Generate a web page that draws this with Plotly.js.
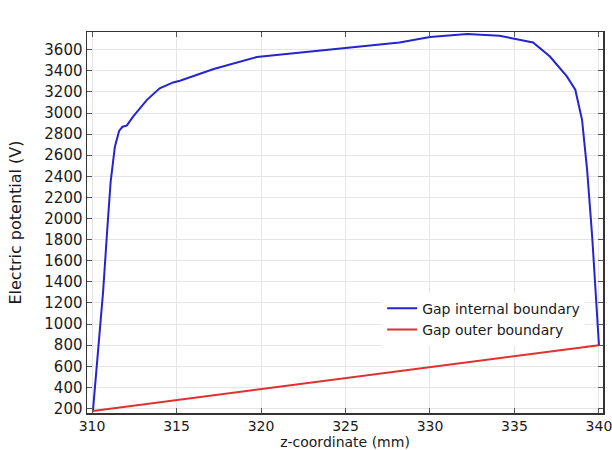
<!DOCTYPE html>
<html>
<head>
<meta charset="utf-8">
<script src="https://cdn.plot.ly/plotly-3.0.1.min.js"></script>
<style>html,body{margin:0;padding:0;background:#fff;}#chart{width:612px;height:450px;}</style>
</head>
<body>
<div id="chart"></div>
<script>
var innerZ = [310.05, 310.35, 310.65, 310.9, 311.1, 311.35, 311.6, 311.8, 312.05, 312.45, 313.25, 314.0, 314.8, 315.2, 317.2, 319.75, 321.1, 324.1, 326.0, 328.2, 330.0, 332.2, 334.1, 336.1, 337.1, 338.1, 338.6, 339.0, 339.3, 339.6, 340.0];
var innerV = [175, 700, 1300, 1900, 2350, 2680, 2830, 2870, 2880, 2970, 3125, 3235, 3290, 3306, 3417, 3530, 3553, 3600, 3630, 3669, 3720, 3749, 3733, 3669, 3536, 3347, 3221, 2936, 2462, 1829, 800];
var outerZ = [310.05, 325.0, 340.0];
var outerV = [175, 490, 800];
var xTicks = [310, 315, 320, 325, 330, 335, 340];
var yTicks = [200, 400, 600, 800, 1000, 1200, 1400, 1600, 1800, 2000, 2200, 2400, 2600, 2800, 3000, 3200, 3400, 3600];

var yTickFont = {family: 'DejaVu Sans', size: 15, color: '#1a1a1a'};
var xTickFont = {family: 'DejaVu Sans', size: 14, color: '#1a1a1a'};
var font = {family: 'DejaVu Sans', size: 14, color: '#1a1a1a'};
var traces = [
  {x: innerZ, y: innerV, type: 'scatter', mode: 'lines', name: 'Gap internal boundary',
   line: {color: '#2424d0', width: 2}},
  {x: outerZ, y: outerV, type: 'scatter', mode: 'lines', name: 'Gap outer boundary',
   line: {color: '#e03030', width: 2}}
];
var axisCommon = {
  showline: true, linecolor: '#333', linewidth: 1.5, mirror: 'ticks',
  ticks: 'inside', ticklen: 5, tickcolor: '#555',
  showgrid: true, gridcolor: '#e6e6e6', gridwidth: 1, zeroline: false,
  ticklabeloverflow: 'allow'
};
var layout = {
  width: 612, height: 450,
  margin: {l: 87, r: 9, t: 32, b: 37},
  paper_bgcolor: '#fff', plot_bgcolor: '#fff',
  font: font,
  showlegend: true,
  legend: {x: 0.572, y: 0.316, xanchor: 'left', yanchor: 'top', bgcolor: '#fff',
           borderwidth: 0, font: font, tracegroupgap: 0},
  xaxis: Object.assign({}, axisCommon, {range: [309.7, 340.24], tickvals: xTicks, ticktext: xTicks.map(String),
          tickfont: xTickFont, title: {text: 'z-coordinate (mm)', font: font, standoff: 4}}),
  yaxis: Object.assign({}, axisCommon, {range: [157, 3768], tickvals: yTicks, ticktext: yTicks.map(String),
          tickfont: yTickFont,
          title: {text: 'Electric potential (V)', font: {family: 'DejaVu Sans', size: 16, color: '#1a1a1a'}, standoff: 18}})
};
Plotly.newPlot('chart', traces, layout, {displayModeBar: false, staticPlot: true});
</script>
</body>
</html>
